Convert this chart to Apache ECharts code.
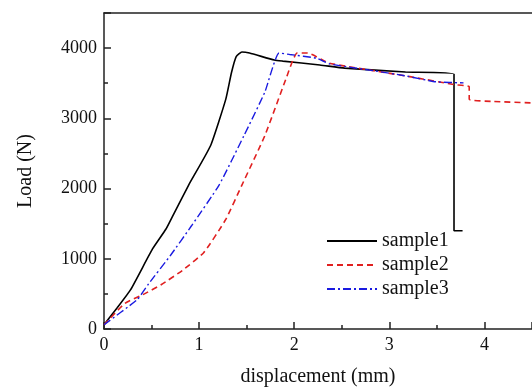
<!DOCTYPE html>
<html>
<head>
	<meta charset="utf-8">
	<title>load-displacement</title>
	<script src="https://cdn.jsdelivr.net/npm/echarts@6/dist/echarts.min.js"></script>
</head>
<body style="margin:0;">
	<div id="container" style="width:532px;height:392px;"></div>
	<script type="text/javascript">
		// displacement (mm), load (N)
		var sample1 = [[0,60],[0.135,295],[0.28,560],[0.51,1140],[0.65,1420],[0.73,1630],[0.89,2050],[1.12,2610],[1.28,3270],[1.34,3650],[1.39,3880],[1.45,3945],[1.53,3930],[1.79,3830],[1.88,3815],[2.27,3760],[2.53,3715],[3.17,3660],[3.68,3630],[3.68,1400],[3.77,1400]];
		var sample2 = [[0,60],[0.22,365],[0.41,490],[0.6,630],[0.83,840],[1.05,1090],[1.28,1560],[1.45,2050],[1.69,2750],[1.91,3550],[2.03,3930],[2.14,3930],[2.37,3785],[2.85,3675],[3.23,3590],[3.68,3480],[3.84,3450],[3.84,3270],[4.1,3240],[4.5,3220]];
		var sample3 = [[0,60],[0.35,420],[0.47,645],[0.7,1050],[0.92,1470],[1.21,2050],[1.47,2750],[1.69,3370],[1.84,3930],[1.95,3910],[2.24,3855],[2.37,3775],[2.85,3675],[3.17,3605],[3.49,3520],[3.78,3505]];
		var names = ['sample1','sample2','sample3'];

		var font = 'Liberation Serif';
		var myChart = echarts.init(document.getElementById("container"));
		myChart.setOption({
			animation: false,
			textStyle: {fontFamily: font},
			legend: {
				data: names,
				orient: 'vertical',
				left: 321,
				top: 226,
				itemWidth: 50,
				itemHeight: 14,
				itemGap: 4,
				itemStyle: {opacity: 0},
				textStyle: {fontFamily: font, fontSize: 20, color: '#111'}
			},
			grid: {left: 104, top: 13, width: 468, height: 320},
			xAxis: [{
				type: 'value', min: 0, max: 4.5, interval: 1,
				name: 'displacement (mm)', nameLocation: 'middle', nameGap: 38,
				nameTextStyle: {fontFamily: font, fontSize: 20, color: '#111'},
				axisLine: {lineStyle: {color: '#222', width: 1.5}},
				axisTick: {inside: true, length: 7, lineStyle: {color: '#222', width: 1.5}},
				minorTick: {show: true, splitNumber: 2, length: 4, lineStyle: {color: '#222', width: 1.5}},
				axisLabel: {fontFamily: font, fontSize: 18, color: '#111', margin: 7, showMaxLabel: false},
				splitLine: {show: false}
			}, {
				type: 'value', position: 'top', min: 0, max: 4.5,
				axisLine: {show: true, onZero: false, lineStyle: {color: '#222', width: 1.5}},
				axisTick: {show: false}, axisLabel: {show: false}, splitLine: {show: false}
			}],
			yAxis: {
				type: 'value', min: 0, max: 4500, interval: 1000,
				name: 'Load (N)', nameLocation: 'middle', nameGap: 68,
				nameTextStyle: {fontFamily: font, fontSize: 20, color: '#111'},
				axisLine: {show: true, lineStyle: {color: '#222', width: 1.5}},
				axisTick: {inside: true, length: 7, lineStyle: {color: '#222', width: 1.5}},
				minorTick: {show: true, splitNumber: 2, length: 4, lineStyle: {color: '#222', width: 1.5}},
				axisLabel: {fontFamily: font, fontSize: 18, color: '#111', margin: 7, showMaxLabel: false,
					formatter: function (v) { return String(v); }},
				splitLine: {show: false}
			},
			series: [
				{name: names[0], type: 'line', data: sample1, symbol: 'none', smooth: 0.15,
					lineStyle: {color: '#000', width: 1.6}, itemStyle: {color: '#000'}},
				{name: names[1], type: 'line', data: sample2, symbol: 'none', smooth: 0.15,
					lineStyle: {color: '#e02020', width: 1.6, type: [6, 4]}, itemStyle: {color: '#e02020'}},
				{name: names[2], type: 'line', data: sample3, symbol: 'none', smooth: 0.15,
					lineStyle: {color: '#1a1ae0', width: 1.4, type: [8, 3, 2, 3]}, itemStyle: {color: '#1a1ae0'}}
			]
		});
	</script>
</body>
</html>
